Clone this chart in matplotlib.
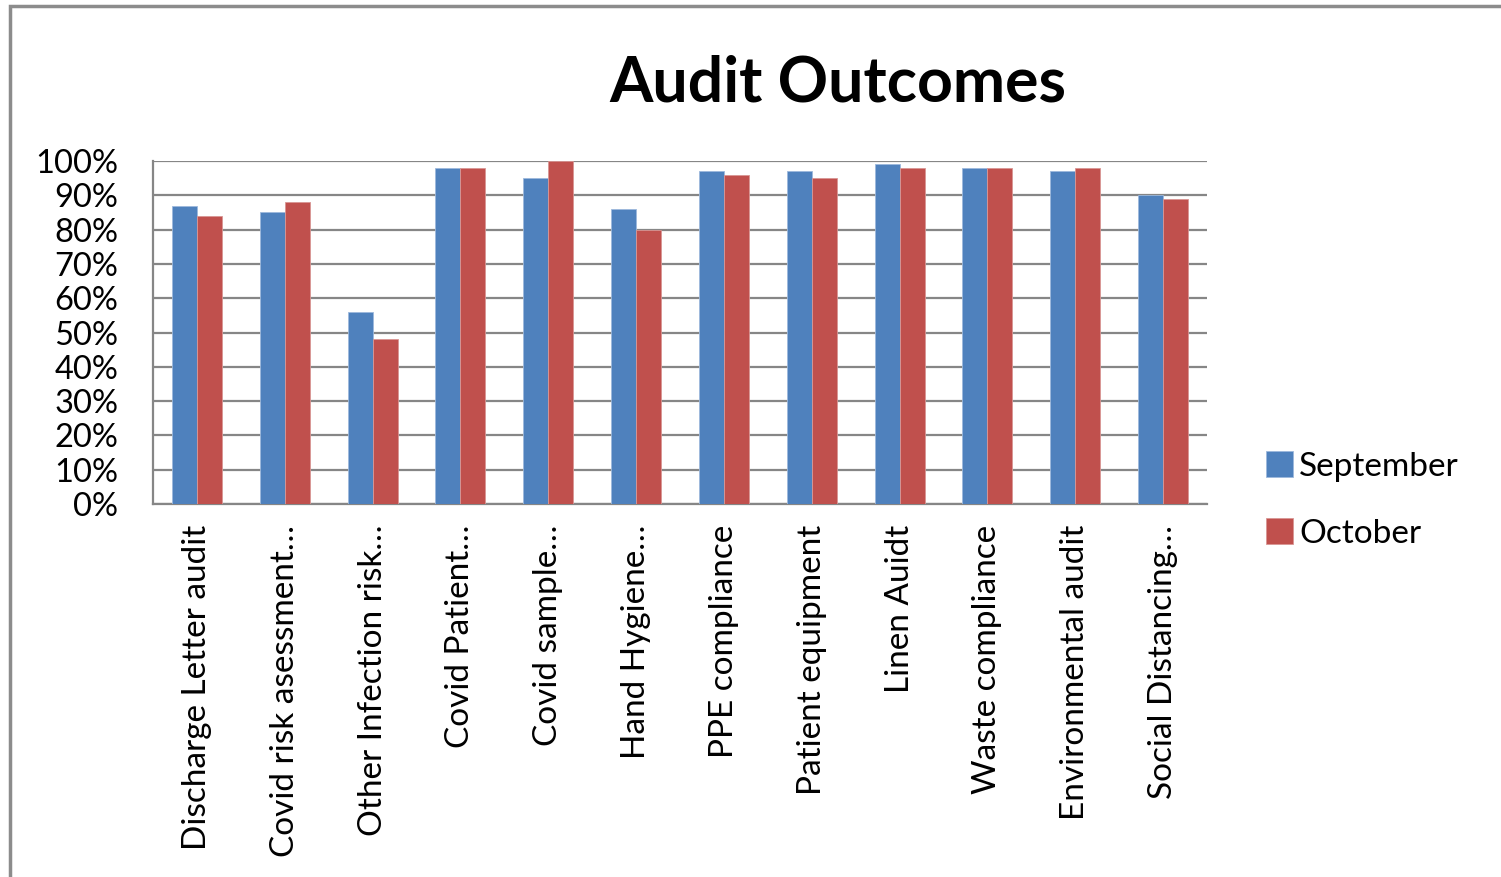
import numpy as np
import matplotlib
matplotlib.use("Agg")
import matplotlib.pyplot as plt
from matplotlib.patches import Rectangle

plt.rcParams['font.family'] = ['Lato', 'DejaVu Sans']

categories = [
    "Discharge Letter audit", "Covid risk asessment…", "Other Infection risk…",
    "Covid Patient…", "Covid sample…", "Hand Hygiene…", "PPE compliance",
    "Patient equipment", "Linen Auidt", "Waste compliance",
    "Environmental audit", "Social Distancing…",
]
september = [0.87, 0.85, 0.56, 0.98, 0.95, 0.86, 0.97, 0.97, 0.99, 0.98, 0.97, 0.90]
october = [0.84, 0.88, 0.48, 0.98, 1.00, 0.80, 0.96, 0.95, 0.98, 0.98, 0.98, 0.89]

blue = '#4F81BD'
red = '#C0504D'
grid = '#868686'

fig = plt.figure(figsize=(15.01, 8.77), dpi=100)
ax = fig.add_axes([153 / 1501, 1 - 504 / 877, 1054 / 1501, 343 / 877])

x = np.arange(len(categories))
w = 0.285
ax.bar(x - w / 2, september, w, color=blue, edgecolor='#9DB9DC', linewidth=0.6, label='September', zorder=3)
ax.bar(x + w / 2, october, w, color=red, edgecolor='#D99694', linewidth=0.6, label='October', zorder=3)

ax.set_xlim(-0.5, len(categories) - 0.5)
ax.set_ylim(0, 1.0)
ax.set_yticks(np.arange(0, 1.01, 0.1))
ax.set_yticklabels([f"{int(round(v * 100))}%" for v in np.arange(0, 1.01, 0.1)], fontsize=23.5)
ax.yaxis.grid(True, color=grid, linewidth=1.6, zorder=0)
ax.set_axisbelow(True)
ax.tick_params(axis='y', length=0, pad=25)
ax.set_xticks(x)
ax.set_xticklabels(categories, rotation=90, fontsize=24, va='top')
ax.tick_params(axis='x', length=0, pad=15)

for s in ['top', 'right']:
    ax.spines[s].set_visible(False)
for s in ['left', 'bottom']:
    ax.spines[s].set_color(grid)
    ax.spines[s].set_linewidth(1.6)

fig.text(838 / 1501, 1 - 84 / 877, "Audit Outcomes", ha='center', va='center',
         fontsize=45, fontweight='bold')

fig.legend(loc='center left', bbox_to_anchor=(1266 / 1501, 1 - 500 / 877),
           frameon=False, fontsize=24, handlelength=0.8, handleheight=0.8,
           handletextpad=0.2, labelspacing=1.1, borderpad=0, borderaxespad=0)

# chart frame as in the screenshot
fig.patches.append(Rectangle((10 / 1501, -0.05), 1.2, 1 - 6 / 877 + 0.05,
                             transform=fig.transFigure, fill=False,
                             edgecolor='#8C8C8C', linewidth=2.5))

fig.savefig('out.png', dpi=100)
